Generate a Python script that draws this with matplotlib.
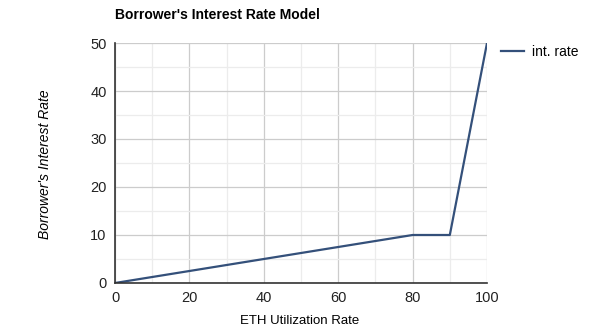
import matplotlib
matplotlib.use('Agg')
import matplotlib.pyplot as plt
from matplotlib.ticker import MultipleLocator

# data
utilization = [0, 80, 90, 100]
int_rate    = [0, 10, 10, 50]

plt.rcParams['font.family'] = ['Liberation Sans', 'DejaVu Sans']

fig = plt.figure(figsize=(6.0, 3.28), dpi=100)
ax = fig.add_axes([0.1917, 0.1372, 0.62, 0.7317])

ax.plot(utilization, int_rate, color='#34507a', linewidth=1.6, label='int. rate')

ax.set_xlim(0, 100)
ax.set_ylim(0, 50)
ax.xaxis.set_major_locator(MultipleLocator(20))
ax.xaxis.set_minor_locator(MultipleLocator(10))
ax.yaxis.set_major_locator(MultipleLocator(10))
ax.yaxis.set_minor_locator(MultipleLocator(5))
ax.grid(which='major', color='#cccccc', linewidth=0.9)
ax.grid(which='minor', color='#ececec', linewidth=0.9)
ax.set_axisbelow(True)

for s in ['top', 'right']:
    ax.spines[s].set_visible(False)
ax.spines['left'].set_color('#333333')
ax.spines['bottom'].set_color('#333333')
ax.spines['left'].set_linewidth(1.2)
ax.spines['bottom'].set_linewidth(1.2)
ax.tick_params(which='both', length=0, labelsize=10.5, colors='#222222', pad=6)

fig.text(0.1917, 0.955, "Borrower's Interest Rate Model", fontsize=10,
         fontweight='bold', va='center', ha='left')
fig.text(0.075, 0.5, "Borrower's Interest Rate", fontsize=10, style='italic',
         rotation=90, va='center', ha='center')
fig.text(0.50, 0.004, "ETH Utilization Rate", fontsize=9.5, va='bottom', ha='center')

ax.legend(loc='upper left', bbox_to_anchor=(1.005, 1.045), frameon=False,
          fontsize=10, handlelength=1.6, handletextpad=0.6)

plt.savefig('out.png', dpi=100)
plt.close()
